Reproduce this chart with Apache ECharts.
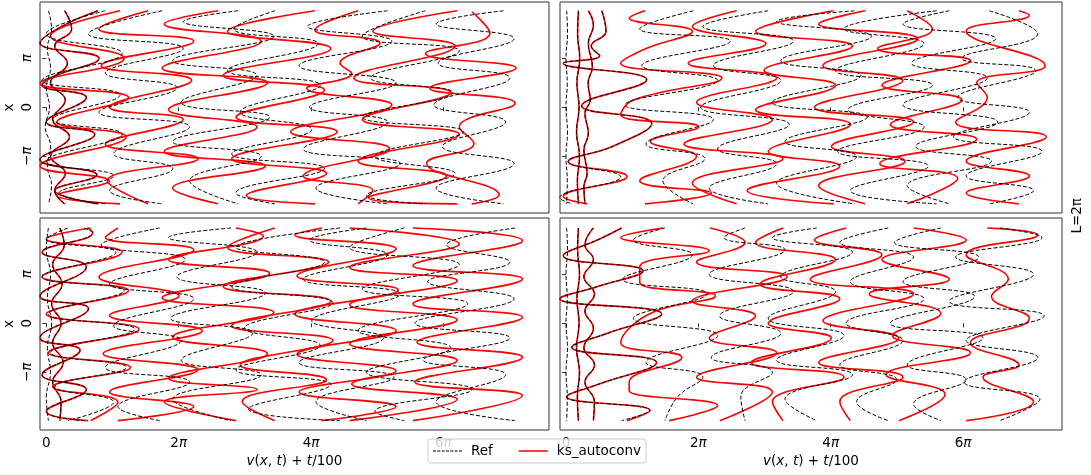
<!DOCTYPE html>
<html>
<head>
<meta charset="utf-8">
<script src="https://cdn.jsdelivr.net/npm/echarts@6/dist/echarts.min.js"></script>
<style>
html,body{margin:0;padding:0;background:#fff;}
#chart{width:1091px;height:475px;}
</style>
</head>
<body>
<div id="chart"></div>
<script>
// ---------- tick values ----------
const PI = Math.PI;
const xTickValues = [0, 2 * PI, 4 * PI, 6 * PI];
const xTickLabels = ['0', '2{i|π}', '4{i|π}', '6{i|π}'];
const yTickValues = [-1, 0, 1];            // x in units of π
const yTickLabels = ['−{i|π}', '0', '{i|π}'];

// each curve: list of [v(x,t)+t/100, x/π]
// ---------- top-left ----------
const tlRef = [
  [[0.1,1.97],[0.25,1.6],[0.05,1.2],[0.2,0.8],[0.0,0.4],[0.15,0.0],[-0.05,-0.4],[0.2,-0.8],[0.05,-1.2],[0.25,-1.6],[0.1,-1.97]],
  [[0.87,1.97],[1.2,1.6],[0.4,1.25],[1.0,0.9],[0.2,0.5],[0.9,0.15],[0.3,-0.25],[1.1,-0.6],[0.2,-1.0],[0.9,-1.35],[0.4,-1.7],[0.87,-1.97]],
  [[2.45,1.97],[0.6,1.62],[-0.3,1.31],[2.5,1.0],[0.3,0.62],[-0.2,0.45],[1.9,0.2],[0.0,-0.3],[2.3,-0.55],[-0.3,-1.07],[2.4,-1.38],[0.4,-1.7],[2.45,-1.97]],
  [[2.8,1.97],[0.0,1.5],[3.6,1.1],[-0.2,0.55],[3.5,0.25],[0.3,-0.25],[3.6,-0.55],[0.0,-1.1],[3.2,-1.4],[0.6,-1.75],[2.8,-1.97]],
  [[5.5,1.97],[2.0,1.5],[6.5,1.2],[2.8,0.7],[6.2,0.4],[2.5,-0.1],[6.8,-0.4],[3.2,-0.95],[6.0,-1.25],[3.0,-1.7],[5.5,-1.97]],
  [[9.1,1.97],[6.5,1.75],[10.8,1.45],[6.0,0.95],[10.0,0.65],[6.4,0.1],[10.6,-0.2],[6.0,-0.7],[10.2,-1.0],[6.8,-1.5],[9.1,-1.97]],
  [[10.85,1.97],[8.9,1.6],[12.9,1.3],[8.6,0.75],[13.0,0.45],[9.2,-0.1],[12.6,-0.45],[8.8,-0.95],[13.2,-1.25],[9.0,-1.75],[10.85,-1.97]],
  [[16.2,1.97],[12.4,1.65],[16.4,1.35],[12.0,0.85],[16.6,0.5],[12.5,0.0],[16.2,-0.3],[12.2,-0.85],[16.8,-1.15],[12.8,-1.65],[16.2,-1.97]],
  [[18.0,1.97],[15.0,1.45],[19.6,1.15],[15.4,0.6],[19.3,0.3],[15.0,-0.2],[19.8,-0.5],[15.6,-1.0],[19.4,-1.35],[15.2,-1.8],[18.0,-1.97]],
  [[21.7,1.97],[18.5,1.7],[22.2,1.4],[18.6,0.9],[22.0,0.6],[18.4,0.05],[21.8,-0.3],[18.8,-0.8],[22.2,-1.15],[18.5,-1.65],[21.7,-1.97]]
];
const tlAuto = [
  [[0.87,1.97],[1.2,1.6],[0.4,1.25],[1.0,0.9],[0.2,0.5],[0.9,0.15],[0.3,-0.25],[1.1,-0.6],[0.2,-1.0],[0.9,-1.35],[0.4,-1.7],[0.87,-1.97]],
  [[2.45,1.97],[0.6,1.62],[-0.3,1.31],[2.5,1.0],[0.3,0.62],[-0.2,0.45],[1.9,0.2],[0.0,-0.3],[2.3,-0.55],[-0.3,-1.07],[2.4,-1.38],[0.4,-1.7],[2.45,-1.97]],
  [[3.5,1.97],[0.2,1.45],[3.7,1.0],[-0.3,0.49],[3.9,0.2],[0.5,-0.3],[3.8,-0.6],[-0.3,-1.2],[3.0,-1.5],[0.5,-1.8],[3.5,-1.97]],
  [[4.83,1.97],[2.5,1.6],[7.0,1.35],[2.6,0.85],[6.9,0.55],[3.0,0.0],[6.5,-0.25],[2.8,-0.75],[7.2,-1.05],[2.9,-1.5],[4.83,-1.97]],
  [[8.15,1.97],[5.6,1.7],[10.2,1.35],[5.5,0.8],[10.5,0.5],[5.8,-0.05],[10.0,-0.4],[5.6,-0.9],[10.4,-1.2],[6.0,-1.65],[8.15,-1.97]],
  [[12.75,1.97],[8.6,1.55],[13.5,1.2],[8.4,0.65],[13.2,0.35],[9.0,-0.2],[13.8,-0.5],[8.8,-1.05],[13.3,-1.35],[9.5,-1.8],[12.75,-1.97]],
  [[14.8,1.97],[12.75,1.58],[15.84,1.31],[13.94,0.90],[14.5,0.69],[12.36,0.39],[16.4,0.05],[11.6,-0.5],[16.3,-0.85],[12.2,-1.4],[15.5,-1.7],[14.8,-1.97]],
  [[19.5,1.97],[15.5,1.55],[19.4,1.25],[14.6,0.6],[19.2,0.3],[15.0,-0.25],[19.6,-0.55],[14.8,-1.1],[19.0,-1.4],[15.3,-1.85],[19.5,-1.97]],
  [[20.2,1.95],[21.06,1.51],[18.0,1.10],[22.3,0.80],[18.2,0.39],[22.25,0.08],[19.6,-0.40],[20.3,-0.74],[18.05,-1.14],[21.5,-1.79],[20.2,-1.97]]
];

// ---------- top-right ----------
const trRef = [
  [[0.03,1.97],[0.07,1.5],[0.0,1.0],[0.06,0.5],[0.0,0.0],[0.07,-0.5],[0.0,-1.0],[0.06,-1.5],[0.03,-1.97]],
  [[0.59,1.97],[0.55,1.5],[0.65,1.0],[0.52,0.5],[0.62,0.0],[0.5,-0.5],[0.64,-1.0],[0.54,-1.5],[0.59,-1.97]],
  [[1.06,1.97],[1.3,1.68],[1.06,1.3],[1.25,0.83],[1.05,0.49],[1.15,0.15],[0.9,-0.12],[1.06,-0.53],[0.85,-0.87],[1.0,-1.35],[0.85,-1.62],[0.9,-1.97]],
  [[1.7,1.97],[1.9,1.55],[1.2,1.25],[1.6,1.05],[-0.13,0.90],[3.83,0.56],[0.74,0.03],[4.07,-0.33],[2.2,-0.80],[0.11,-1.11],[2.6,-1.42],[-0.3,-1.85],[0.3,-1.97]],
  [[6.04,1.97],[3.5,1.6],[7.8,1.35],[3.6,0.85],[7.2,0.55],[2.8,0.05],[7.0,-0.25],[3.8,-0.75],[6.6,-1.05],[4.6,-1.5],[6.04,-1.97]],
  [[9.6,1.97],[6.5,1.65],[10.8,1.35],[7.0,0.85],[10.2,0.55],[6.4,0.0],[10.6,-0.35],[7.2,-0.85],[10.0,-1.15],[6.8,-1.65],[9.6,-1.97]],
  [[13.7,1.97],[10.0,1.75],[14.5,1.45],[10.2,0.95],[14.0,0.65],[9.8,0.1],[14.3,-0.2],[10.4,-0.7],[13.8,-1.0],[10.0,-1.55],[13.7,-1.97]],
  [[17.6,1.97],[13.2,1.6],[17.0,1.3],[12.8,0.75],[17.4,0.45],[13.4,-0.05],[17.0,-0.4],[12.9,-0.9],[17.2,-1.2],[13.5,-1.7],[17.6,-1.97]],
  [[18.2,1.97],[16.0,1.7],[20.4,1.4],[16.4,0.9],[20.0,0.6],[16.0,0.05],[20.5,-0.3],[16.6,-0.8],[20.2,-1.1],[16.2,-1.6],[18.2,-1.97]],
  [[20.1,1.97],[22.4,1.5],[18.8,1.0],[22.3,0.75],[18.6,0.2],[22.0,-0.1],[18.4,-0.6],[22.6,-0.9],[19.0,-1.4],[22.2,-1.7],[20.1,-1.97]]
];
const trAuto = [
  [[0.59,1.97],[0.55,1.5],[0.65,1.0],[0.52,0.5],[0.62,0.0],[0.5,-0.5],[0.64,-1.0],[0.54,-1.5],[0.59,-1.97]],
  [[1.06,1.97],[1.3,1.68],[1.06,1.3],[1.25,0.83],[1.05,0.49],[1.15,0.15],[0.9,-0.12],[1.06,-0.53],[0.85,-0.87],[1.0,-1.35],[0.85,-1.62],[0.9,-1.97]],
  [[1.7,1.97],[1.9,1.55],[1.2,1.25],[1.6,1.05],[-0.13,0.90],[3.83,0.56],[0.74,0.03],[4.07,-0.33],[2.2,-0.80],[0.11,-1.11],[2.9,-1.41],[-0.13,-1.82],[1.0,-1.97]],
  [[3.75,1.97],[3.0,1.82],[6.0,1.55],[3.8,1.2],[2.6,0.90],[7.4,0.60],[3.2,0.15],[2.6,-0.15],[6.3,-0.40],[4.0,-0.70],[6.2,-1.0],[3.5,-1.5],[6.9,-1.75],[3.75,-1.97]],
  [[8.1,1.97],[6.0,1.65],[9.5,1.3],[5.8,0.9],[10.0,0.6],[6.2,0.1],[9.8,-0.25],[5.6,-0.75],[10.3,-1.05],[6.0,-1.55],[8.1,-1.97]],
  [[12.7,1.97],[9.0,1.55],[13.6,1.25],[9.4,0.75],[12.8,0.45],[9.0,-0.05],[13.5,-0.35],[9.6,-0.9],[13.0,-1.2],[8.6,-1.7],[12.7,-1.97]],
  [[14.2,1.97],[12.0,1.7],[16.7,1.4],[12.2,0.85],[16.0,0.55],[11.8,0.0],[16.5,-0.3],[12.6,-0.8],[16.1,-1.1],[12.0,-1.6],[14.2,-1.97]],
  [[16.2,1.97],[17.4,1.6],[14.8,1.2],[19.2,0.95],[15.0,0.45],[18.8,0.15],[15.4,-0.35],[19.5,-0.65],[14.9,-1.15],[18.6,-1.45],[16.2,-1.97]],
  [[21.5,1.97],[22.0,1.88],[19.0,1.55],[22.75,0.85],[19.5,0.5],[20.0,0.2],[18.5,-0.3],[22.8,-0.6],[19.0,-1.1],[22.0,-1.4],[19.0,-1.75],[21.5,-1.97]]
];

// ---------- bottom-left ----------
const blRef = [
  [[0.1,1.945],[0.0,1.5],[0.2,1.0],[0.05,0.5],[0.25,0.0],[0.05,-0.5],[0.2,-1.0],[0.0,-1.5],[0.1,-1.987]],
  [[0.64,1.945],[0.85,1.6],[0.3,1.2],[0.75,0.8],[0.25,0.4],[0.7,0.0],[0.3,-0.4],[0.8,-0.8],[0.3,-1.2],[0.7,-1.6],[0.64,-1.987]],
  [[1.8,1.945],[2.2,1.85],[-0.2,1.45],[1.9,1.15],[-0.3,0.55],[2.0,0.3],[-0.3,-0.3],[1.6,-0.55],[-0.2,-1.05],[1.9,-1.35],[0.0,-1.8],[1.8,-1.987]],
  [[1.03,1.945],[0.0,1.72],[3.3,1.45],[-0.2,0.95],[3.7,0.67],[0.1,0.19],[4.2,-0.12],[0.2,-0.6],[3.8,-0.9],[0.4,-1.3],[3.2,-1.61],[1.03,-1.987]],
  [[5.38,1.945],[2.6,1.6],[6.6,1.3],[3.0,0.8],[7.0,0.5],[3.2,-0.05],[6.4,-0.35],[2.8,-0.9],[6.8,-1.2],[3.4,-1.7],[5.38,-1.987]],
  [[8.77,1.945],[5.8,1.75],[10.0,1.45],[6.2,0.95],[10.4,0.62],[5.9,0.1],[9.8,-0.2],[6.4,-0.75],[10.2,-1.05],[6.0,-1.55],[8.77,-1.987]],
  [[13.94,1.945],[9.0,1.55],[13.2,1.25],[8.8,0.75],[13.6,0.42],[9.4,-0.1],[13.0,-0.45],[9.0,-0.95],[13.5,-1.25],[9.6,-1.75],[13.94,-1.987]],
  [[15.2,1.945],[12.5,1.7],[16.2,1.4],[12.2,0.9],[16.8,0.6],[12.6,0.05],[16.0,-0.3],[12.0,-0.8],[16.5,-1.1],[12.8,-1.6],[15.2,-1.987]],
  [[17.0,1.945],[14.4,1.55],[19.6,1.2],[15.0,0.7],[20.0,0.4],[14.8,-0.15],[19.2,-0.5],[15.2,-1.0],[20.2,-1.35],[15.6,-1.8],[17.0,-1.987]],
  [[22.25,1.945],[19.0,1.6],[22.0,1.25],[18.1,0.85],[22.2,0.5],[17.5,0.0],[22.0,-0.3],[17.9,-0.75],[21.8,-1.05],[18.5,-1.6],[22.25,-1.987]]
];
const blAuto = [
  [[0.64,1.945],[0.85,1.6],[0.3,1.2],[0.75,0.8],[0.25,0.4],[0.7,0.0],[0.3,-0.4],[0.8,-0.8],[0.3,-1.2],[0.7,-1.6],[0.64,-1.987]],
  [[1.98,1.945],[2.2,1.85],[-0.2,1.45],[1.9,1.15],[-0.3,0.55],[2.0,0.3],[-0.3,-0.3],[1.6,-0.55],[-0.2,-1.05],[1.9,-1.35],[0.0,-1.8],[1.98,-1.987]],
  [[2.1,1.945],[0.0,1.72],[3.6,1.45],[-0.2,0.95],[3.9,0.67],[0.0,0.19],[4.4,-0.12],[0.1,-0.6],[4.0,-0.9],[0.3,-1.3],[3.4,-1.61],[2.1,-1.987]],
  [[3.4,1.945],[2.8,1.75],[7.0,1.50],[2.5,0.94],[6.3,0.56],[3.0,0.16],[7.4,-0.15],[2.7,-0.62],[7.2,-0.95],[3.0,-1.4],[7.0,-1.7],[3.4,-1.987]],
  [[9.0,1.945],[10.3,1.78],[5.8,1.30],[10.6,1.02],[5.5,0.52],[10.8,0.22],[6.0,-0.28],[10.5,-0.62],[5.8,-1.12],[10.0,-1.35],[5.6,-1.60],[9.0,-1.987]],
  [[10.84,1.945],[8.6,1.55],[13.4,1.25],[8.4,0.75],[13.5,0.45],[8.8,-0.05],[13.6,-0.35],[9.2,-0.85],[13.3,-1.15],[9.3,-1.6],[10.84,-1.987]],
  [[13.07,1.945],[11.8,1.80],[16.6,1.52],[11.9,0.97],[16.7,0.68],[11.8,0.19],[16.6,-0.15],[11.9,-0.63],[16.6,-0.97],[12.0,-1.40],[16.6,-1.70],[13.07,-1.987]],
  [[14.4,1.945],[19.6,1.62],[14.4,1.14],[19.5,0.87],[14.4,0.38],[19.5,0.07],[14.4,-0.42],[19.5,-0.76],[14.5,-1.24],[19.5,-1.55],[14.4,-1.987]],
  [[17.4,1.945],[22.6,1.687],[17.4,1.177],[22.6,0.904],[17.4,0.394],[22.6,0.122],[17.6,-0.388],[22.6,-0.694],[17.5,-1.2],[22.6,-1.476],[17.4,-1.987]]
];

// ---------- bottom-right ----------
const brRef = [
  [[0.03,1.945],[0.07,1.5],[0.0,1.0],[0.06,0.5],[0.0,0.0],[0.07,-0.5],[0.0,-1.0],[0.06,-1.5],[0.03,-1.987]],
  [[0.59,1.945],[0.55,1.5],[0.64,1.0],[0.52,0.5],[0.62,0.0],[0.5,-0.5],[0.64,-1.0],[0.54,-1.5],[0.59,-1.987]],
  [[1.3,1.945],[0.9,1.6],[1.3,1.3],[0.85,0.95],[1.35,0.6],[0.9,0.25],[1.3,-0.1],[0.85,-0.5],[1.35,-0.85],[0.9,-1.2],[1.35,-1.6],[1.3,-1.987]],
  [[2.64,1.945],[1.6,1.72],[-0.13,1.38],[3.67,1.07],[1.5,0.75],[-0.29,0.50],[4.54,0.19],[2.0,-0.2],[0.27,-0.49],[4.3,-0.80],[1.5,-1.25],[0.03,-1.50],[3.99,-1.78],[2.64,-1.987]],
  [[4.7,1.945],[3.2,1.7],[6.0,1.4],[2.7,0.9],[6.7,0.6],[3.2,0.1],[7.2,-0.25],[3.8,-0.8],[6.5,-1.1],[5.3,-1.5],[4.7,-1.987]],
  [[8.5,1.945],[7.5,1.75],[10.4,1.5],[6.8,1.0],[10.8,0.65],[7.3,0.15],[10.2,-0.2],[6.9,-0.7],[9.8,-1.0],[8.3,-1.5],[8.5,-1.987]],
  [[11.9,1.945],[9.8,1.75],[13.6,1.45],[10.2,0.95],[12.8,0.65],[9.6,0.1],[13.2,-0.25],[10.0,-0.75],[13.6,-1.05],[10.4,-1.55],[11.9,-1.987]],
  [[15.3,1.945],[13.0,1.65],[16.5,1.35],[13.5,0.85],[17.0,0.5],[13.3,0.0],[16.0,-0.35],[13.0,-0.85],[15.7,-1.15],[13.8,-1.6],[15.3,-1.987]],
  [[17.8,1.945],[15.6,1.65],[19.6,1.35],[16.0,0.85],[19.4,0.55],[15.4,0.0],[19.8,-0.3],[16.2,-0.85],[19.0,-1.15],[16.5,-1.65],[17.8,-1.987]],
  [[20.6,1.945],[22.6,1.75],[18.5,1.35],[22.2,1.0],[18.2,0.45],[22.7,0.15],[19.0,-0.35],[22.4,-0.7],[18.9,-1.2],[22.5,-1.55],[20.6,-1.987]]
];
const brAuto = [
  [[0.59,1.945],[0.55,1.5],[0.64,1.0],[0.52,0.5],[0.62,0.0],[0.5,-0.5],[0.64,-1.0],[0.54,-1.5],[0.59,-1.987]],
  [[1.3,1.945],[0.9,1.6],[1.3,1.3],[0.85,0.95],[1.35,0.6],[0.9,0.25],[1.3,-0.1],[0.85,-0.5],[1.35,-0.85],[0.9,-1.2],[1.35,-1.6],[1.3,-1.987]],
  [[2.64,1.945],[1.6,1.72],[-0.13,1.38],[3.67,1.07],[1.5,0.75],[-0.29,0.50],[4.54,0.19],[2.0,-0.2],[0.27,-0.49],[4.3,-0.80],[1.5,-1.25],[0.03,-1.50],[3.99,-1.78],[2.9,-1.987]],
  [[4.6,1.945],[2.6,1.75],[6.8,1.48],[3.5,1.15],[3.5,0.84],[7.1,0.56],[4.0,0.2],[2.6,-0.39],[5.5,-0.7],[3.0,-1.2],[3.0,-1.37],[7.2,-1.68],[4.9,-1.987]],
  [[6.84,1.945],[8.5,1.65],[6.2,1.25],[10.5,0.95],[6.0,0.45],[9.0,0.15],[6.8,-0.3],[10.0,-0.6],[6.2,-1.1],[9.8,-1.4],[7.3,-1.987]],
  [[10.3,1.945],[9.0,1.65],[12.8,1.3],[9.2,0.8],[13.0,0.5],[9.6,0.0],[12.6,-0.3],[8.8,-0.8],[13.2,-1.1],[9.8,-1.6],[10.3,-1.987]],
  [[13.3,1.945],[11.8,1.7],[15.0,1.4],[11.6,0.9],[16.5,0.6],[12.2,0.05],[15.8,-0.3],[12.0,-0.8],[16.0,-1.1],[13.0,-1.6],[13.5,-1.987]],
  [[16.5,1.945],[19.0,1.7],[15.0,1.3],[18.2,0.9],[14.4,0.6],[17.8,0.2],[15.5,-0.25],[19.2,-0.6],[15.2,-1.05],[18.0,-1.45],[15.8,-1.987]],
  [[20.0,1.945],[22.4,1.8],[19.0,1.4],[21.0,0.9],[20.2,0.55],[22.0,0.1],[19.2,-0.4],[21.5,-0.85],[19.8,-1.1],[22.2,-1.6],[19.0,-1.987]]
];

// ---------- layout ----------
const FONT = 'DejaVu Sans';
const FS = 13.5;
const panels = [
  {ref: tlRef, auto: tlAuto, grid: {left: 40, top: 2, width: 509, height: 211}, xr: [-0.30, 23.86], yr: [-2.157, 2.149], xl: false, yl: true},
  {ref: trRef, auto: trAuto, grid: {left: 560, top: 2, width: 502, height: 211}, xr: [-0.285, 23.55], yr: [-2.157, 2.149], xl: false, yl: false},
  {ref: blRef, auto: blAuto, grid: {left: 40, top: 218, width: 509, height: 212}, xr: [-0.30, 23.86], yr: [-2.178, 2.149], xl: true, yl: true},
  {ref: brRef, auto: brAuto, grid: {left: 560, top: 218, width: 502, height: 212}, xr: [-0.285, 23.55], yr: [-2.178, 2.149], xl: true, yl: false}
];

const rich = {i: {fontStyle: 'italic', fontFamily: FONT, fontSize: FS, color: '#000'}};
const grids = [], xAxes = [], yAxes = [], series = [];
panels.forEach((p, k) => {
  grids.push(Object.assign({show: true, borderColor: '#333', borderWidth: 1, containLabel: false}, p.grid));
  xAxes.push({
    type: 'value', gridIndex: k, min: p.xr[0], max: p.xr[1],
    axisLine: {show: false}, splitLine: {show: false},
    axisTick: {show: true, customValues: xTickValues, length: 4, lineStyle: {color: '#333'}},
    axisLabel: {show: p.xl, customValues: xTickValues, margin: 6, fontFamily: FONT, fontSize: FS, color: '#000',
      formatter: v => xTickLabels[xTickValues.findIndex(t => Math.abs(t - v) < 1e-6)] || '', rich: rich},
    name: p.xl ? '{i|v}({i|x}, {i|t}) + {i|t}/100' : '',
    nameLocation: 'middle', nameGap: 24,
    nameTextStyle: {fontFamily: FONT, fontSize: FS, color: '#000', rich: rich}
  });
  yAxes.push({
    type: 'value', gridIndex: k, min: p.yr[0], max: p.yr[1],
    axisLine: {show: false}, splitLine: {show: false},
    axisTick: {show: true, customValues: yTickValues, length: 4, lineStyle: {color: '#333'}},
    axisLabel: {show: p.yl, customValues: yTickValues, rotate: 90, margin: 6, fontFamily: FONT, fontSize: FS, color: '#000',
      formatter: v => yTickLabels[yTickValues.findIndex(t => Math.abs(t - v) < 1e-6)] || '', rich: rich},
    name: p.yl ? 'x' : '', nameLocation: 'middle', nameGap: 24, nameRotate: 90,
    nameTextStyle: {fontFamily: FONT, fontSize: FS, color: '#000'}
  });
  p.auto.forEach(c => series.push({
    type: 'line', name: 'ks_autoconv', xAxisIndex: k, yAxisIndex: k, data: c,
    smooth: 0.45, symbol: 'none', z: 2, silent: true,
    itemStyle: {color: '#ff0000'},
    lineStyle: {color: '#ff0000', width: 1.6}
  }));
  p.ref.forEach(c => series.push({
    type: 'line', name: 'Ref', xAxisIndex: k, yAxisIndex: k, data: c,
    smooth: 0.45, symbol: 'none', z: 3, silent: true,
    itemStyle: {color: '#000000'},
    lineStyle: {color: '#000000', width: 1, type: [4, 2]}
  }));
});

const dashIcon = 'path://M0,0h3v1h-3zM4.3,0h3v1h-3zM8.6,0h3v1h-3zM12.9,0h3v1h-3zM17.2,0h3v1h-3zM21.5,0h3v1h-3zM25.8,0h3v1h-3z';
const solidIcon = 'path://M0,0h29v1.5h-29z';

const chart = echarts.init(document.getElementById('chart'), null, {renderer: 'canvas'});
chart.setOption({
  animation: false,
  backgroundColor: '#ffffff',
  grid: grids, xAxis: xAxes, yAxis: yAxes, series: series,
  legend: {
    data: [
      {name: 'Ref', icon: dashIcon, itemStyle: {color: '#000000'}},
      {name: 'ks_autoconv', icon: solidIcon, itemStyle: {color: '#ff0000'}}
    ],
    left: 428, top: 439, orient: 'horizontal',
    itemWidth: 29, itemHeight: 1.5, itemGap: 26, padding: [5, 5],
    backgroundColor: 'rgba(255,255,255,0.8)', borderColor: '#cccccc', borderWidth: 1, borderRadius: 3,
    textStyle: {fontFamily: FONT, fontSize: FS, color: '#000', padding: [0, 0, 0, 4]}, z: 10
  },
  graphic: [{
    type: 'text', left: 1070, top: 198, rotation: Math.PI / 2,
    style: {text: 'L=2π', fontFamily: FONT, fontSize: FS, fill: '#000'}
  }]
});
</script>
</body>
</html>
